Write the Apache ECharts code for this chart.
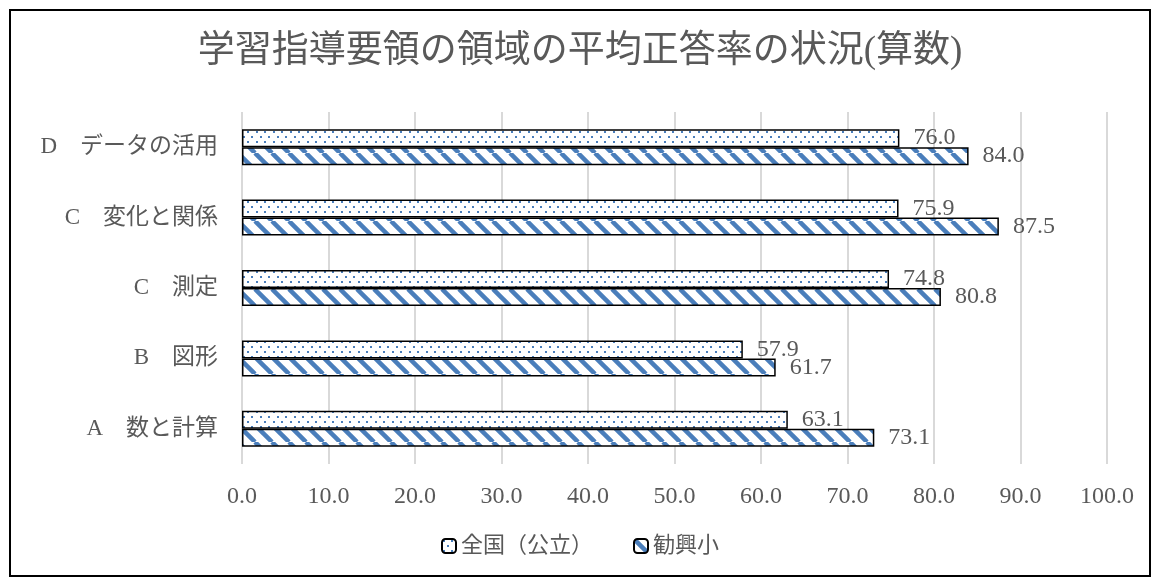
<!DOCTYPE html>
<html><head><meta charset="utf-8">
<script src="https://cdn.jsdelivr.net/npm/echarts@6/dist/echarts.min.js"></script>
<style>html,body{margin:0;padding:0;background:#fff}#c{width:1160px;height:581px}</style>
</head><body><div id="c"></div>
<script>
const categories = ['A　数と計算', 'B　図形', 'C　測定', 'C　変化と関係', 'D　データの活用'];
const nationalValues = [63.1, 57.9, 74.8, 75.9, 76.0];
const schoolValues = [73.1, 61.7, 80.8, 87.5, 84.0];
const seriesNames = ['全国（公立）', '勧興小'];
const titleText = '学習指導要領の領域の平均正答率の状況(算数)';

const FONT = '"Liberation Serif", "Noto Sans CJK JP", serif';
const BLUE = '#4a7ebb';

function dotPattern() {
  const c = document.createElement('canvas');
  c.width = 17; c.height = 20;
  const g = c.getContext('2d');
  g.fillStyle = '#fff'; g.fillRect(0, 0, 17, 20);
  g.fillStyle = BLUE;
  [[1,1],[9,1],[5,6],[13,6],[1,11],[9,11],[5,16],[13,16]].forEach(([x, y]) => g.fillRect(x, y, 2, 2));
  return c;
}
function stripePattern() {
  const s = 17;
  const c = document.createElement('canvas');
  c.width = s; c.height = s;
  const g = c.getContext('2d');
  g.fillStyle = '#fff'; g.fillRect(0, 0, s, s);
  g.strokeStyle = BLUE; g.lineWidth = 4.5;
  for (let k = -1; k <= 1; k++) {
    g.beginPath();
    g.moveTo(k * s, 0); g.lineTo(k * s + s, s);
    g.stroke();
  }
  return c;
}

const chart = echarts.init(document.getElementById('c'));
const labelStyle = {
  show: true, position: 'right', distance: 14,
  formatter: p => p.value.toFixed(1),
  fontFamily: FONT, fontSize: 24, color: '#595959'
};
chart.setOption({
  animation: false,
  title: {
    text: titleText, left: 'center', top: 29,
    textStyle: { fontFamily: FONT, fontSize: 37, fontWeight: 'normal', color: '#595959' }
  },
  graphic: [{
    type: 'rect', shape: { x: 10, y: 10, width: 1140, height: 566 },
    style: { fill: 'none', stroke: '#000', lineWidth: 2 }, silent: true, z: -10
  }],
  legend: {
    data: seriesNames, bottom: 19, left: 'center', itemWidth: 14, itemHeight: 14, itemGap: 40,
    textStyle: { fontFamily: FONT, fontSize: 22, color: '#595959' }
  },
  grid: { left: 242, right: 53, top: 112, bottom: 117, containLabel: false },
  xAxis: {
    type: 'value', min: 0, max: 100, interval: 10,
    axisLabel: { formatter: v => v.toFixed(1), fontFamily: FONT, fontSize: 24, color: '#595959', margin: 21 },
    splitLine: { lineStyle: { color: '#d9d9d9', width: 2 } },
    axisLine: { show: false }, axisTick: { show: false }
  },
  yAxis: {
    type: 'category', data: categories,
    axisLabel: { fontFamily: FONT, fontSize: 23, color: '#595959', margin: 24 },
    axisLine: { show: false }, axisTick: { show: false }
  },
  series: [
    {
      name: seriesNames[0], type: 'bar', data: nationalValues, barWidth: 18, barGap: '0%',
      itemStyle: { color: { image: dotPattern(), repeat: 'repeat' }, borderColor: '#000', borderWidth: 1.5 },
      label: labelStyle
    },
    {
      name: seriesNames[1], type: 'bar', data: schoolValues, barWidth: 18, barGap: '0%',
      itemStyle: { color: { image: stripePattern(), repeat: 'repeat' }, borderColor: '#000', borderWidth: 1.5 },
      label: labelStyle
    }
  ]
});
</script></body></html>
